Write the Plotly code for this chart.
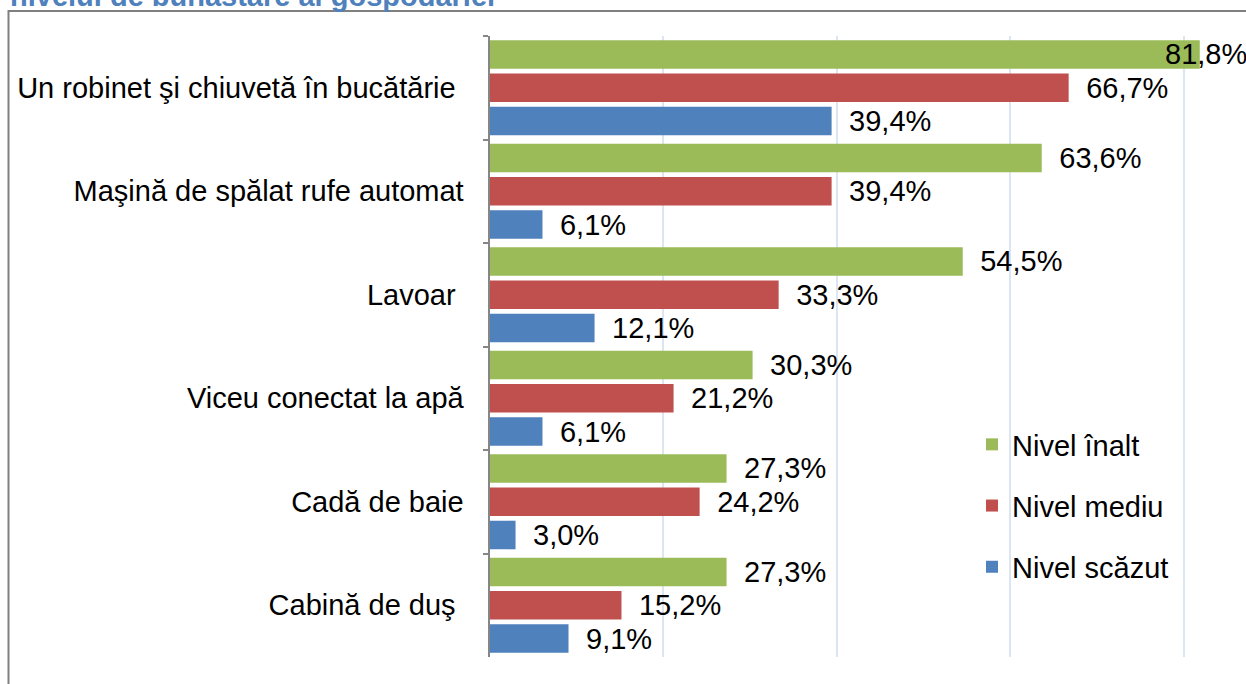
import plotly.graph_objects as go

categories = [
    "Un robinet şi chiuvetă în bucătărie\u00a0",
    "Maşină de spălat rufe automat",
    "Lavoar\u00a0",
    "Viceu conectat la apă",
    "Cadă de baie",
    "Cabină de duş\u00a0",
]
series_names = ["Nivel înalt", "Nivel mediu", "Nivel scăzut"]
nivel_inalt = [81.8, 63.6, 54.5, 30.3, 27.3, 27.3]
nivel_mediu = [66.7, 39.4, 33.3, 21.2, 24.2, 15.2]
nivel_scazut = [39.4, 6.1, 12.1, 6.1, 3.0, 9.1]
colors = ["#9BBB59", "#C0504D", "#4F81BD"]
title_text = "nivelul de bunăstare al gospodăriei"

W, H = 1246, 684
FONT = "Arial, Liberation Sans, sans-serif"
FS = 29
BARGAP = 0.036

fig = go.Figure()
all_series = [nivel_inalt, nivel_mediu, nivel_scazut]
for i, (name, vals, col) in enumerate(zip(series_names, all_series, colors)):
    positions = ["outside"] * len(vals)
    if i == 0:
        positions[0] = "none"  # largest value label is placed inside chart bounds below
    fig.add_trace(go.Bar(
        y=categories, x=vals, name=name, orientation="h",
        marker=dict(color=col, line=dict(width=0)),
        texttemplate="\u2002%{x:.1f}%", textposition=positions,
        textfont=dict(family=FONT, size=FS, color="#000000"),
        constraintext="none", cliponaxis=False,
        legendgroup=name,
    ))

# label of the longest bar, kept inside the chart area as in the original
v0 = nivel_inalt[0]
slot = (1 - BARGAP) / 3
fig.add_annotation(
    x=v0, y=-slot, xref="x", yref="y",
    text=f"{v0:.1f}%".replace(".", ","), showarrow=False,
    xanchor="right", yanchor="middle", xshift=49,
    font=dict(family=FONT, size=FS, color="#000000"),
)

# cut-off title at top
fig.add_annotation(
    x=8 / W, y=1 + 4 / H, xref="paper", yref="paper",
    text=f"<b>{title_text}</b>", showarrow=False,
    xanchor="left", yanchor="middle",
    font=dict(family=FONT, size=FS, color="#4F81BD"),
)

# chart border
fig.add_shape(type="rect", xref="paper", yref="paper",
              x0=8.5 / W, x1=1.2, y0=-0.2, y1=1 - 11 / H,
              line=dict(color="#808080", width=2), fillcolor="rgba(0,0,0,0)", layer="below")

x0_px = 489.5
px_per = 8.683
fig.update_layout(
    width=W, height=H,
    margin=dict(l=0, r=0, t=0, b=0),
    paper_bgcolor="white", plot_bgcolor="white",
    barmode="group", bargap=BARGAP, bargroupgap=0.14,
    separators=",.",
    font=dict(family=FONT, size=FS, color="#000000"),
    xaxis=dict(
        domain=[x0_px / W, 1], range=[0, (W - x0_px) / px_per],
        showticklabels=False, showgrid=True, gridcolor="#DCE6F2", gridwidth=1.5,
        dtick=20, zeroline=False, showline=False, ticks="",
    ),
    yaxis=dict(
        domain=[1 - 657 / H, 1 - 36 / H], autorange="reversed",
        showline=True, linecolor="#868686", linewidth=2,
        ticks="outside", ticklen=5, tickwidth=2, tickcolor="#868686",
        tickson="boundaries", ticklabelstandoff=18,
        tickfont=dict(family=FONT, size=FS, color="#000000"),
        showgrid=False, automargin=False,
    ),
    legend=dict(
        x=972 / W, y=1 - 419 / H, xanchor="left", yanchor="top",
        bgcolor="rgba(0,0,0,0)", font=dict(family=FONT, size=FS, color="#000000"),
        traceorder="grouped", tracegroupgap=20.5,
    ),
)

fig.write_html(
    "out.html",
    config={"displayModeBar": False},
    post_script="document.body.style.margin='0';document.body.style.overflow='hidden';",
)
